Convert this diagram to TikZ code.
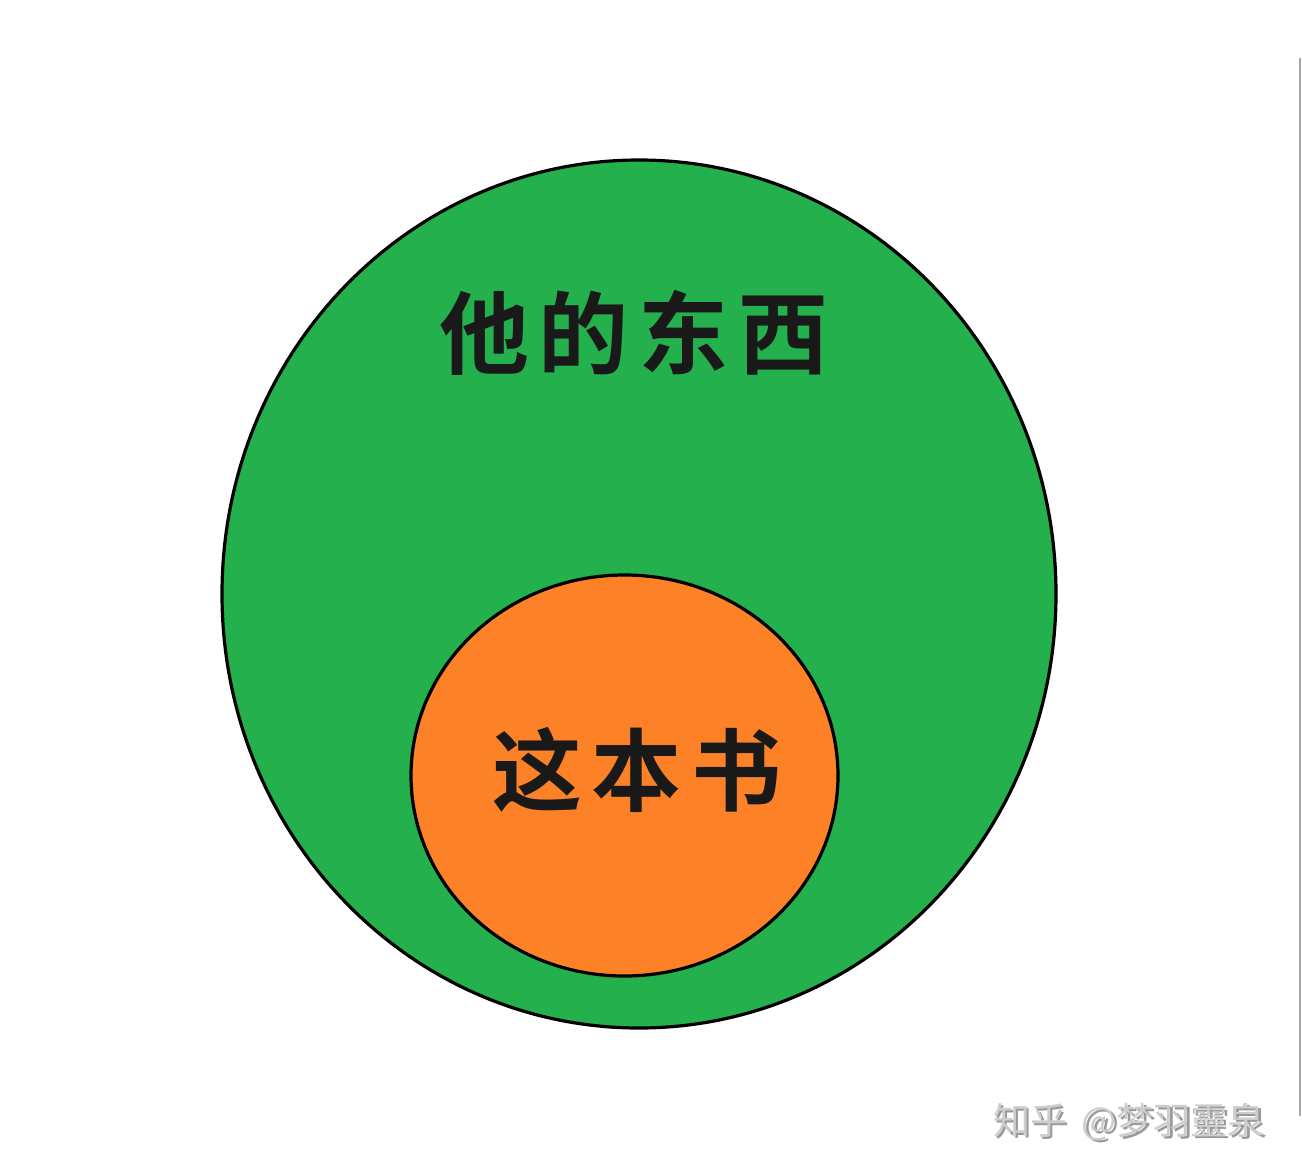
\documentclass[tikz,border=0pt]{standalone}
\usepackage{fontspec}
\newfontfamily\cjk{Noto Sans CJK SC}
\newfontfamily\cjkb{Noto Sans CJK SC Bold}
\definecolor{biggreen}{RGB}{35,176,77}
\definecolor{smallorange}{RGB}{253,129,38}
\definecolor{wmgray}{RGB}{205,205,205}
\tikzset{
  region/.style={draw=black, line width=3.2pt},
  bigtext/.style={font=\cjkb\fontsize{90}{90}\selectfont, text=black!90, inner sep=0pt},
  wmtext/.style={font=\cjk\fontsize{37}{37}\selectfont, inner sep=0pt}
}
\newcommand{\cbox}[1]{\makebox[100pt]{#1}}
\begin{document}
\begin{tikzpicture}[x=1pt,y=-1pt]
\useasboundingbox[fill=white] (0,0) rectangle (1302,1176);
\draw[region, fill=biggreen] (639,594) ellipse [x radius=417, y radius=434];
\draw[region, fill=smallorange] (624.5,775.5) ellipse [x radius=213.5, y radius=200.5];
\node[bigtext] (outer) at (634,333) {\cbox{他}\cbox{的}\cbox{东}\cbox{西}};
\node[bigtext] (inner) at (637,770) {\cbox{这}\cbox{本}\cbox{书}};
\node[wmtext, text=wmgray!75!black] (wmshadow) at (1131.5,1124.5) {知乎\hspace{6pt} @梦羽靈泉};
\node[wmtext, text=wmgray] (wm) at (1129,1122) {知乎\hspace{6pt} @梦羽靈泉};
\draw[line width=1.5pt, color=black!35] (1300,58) -- (1300,1116);
\end{tikzpicture}
\end{document}
